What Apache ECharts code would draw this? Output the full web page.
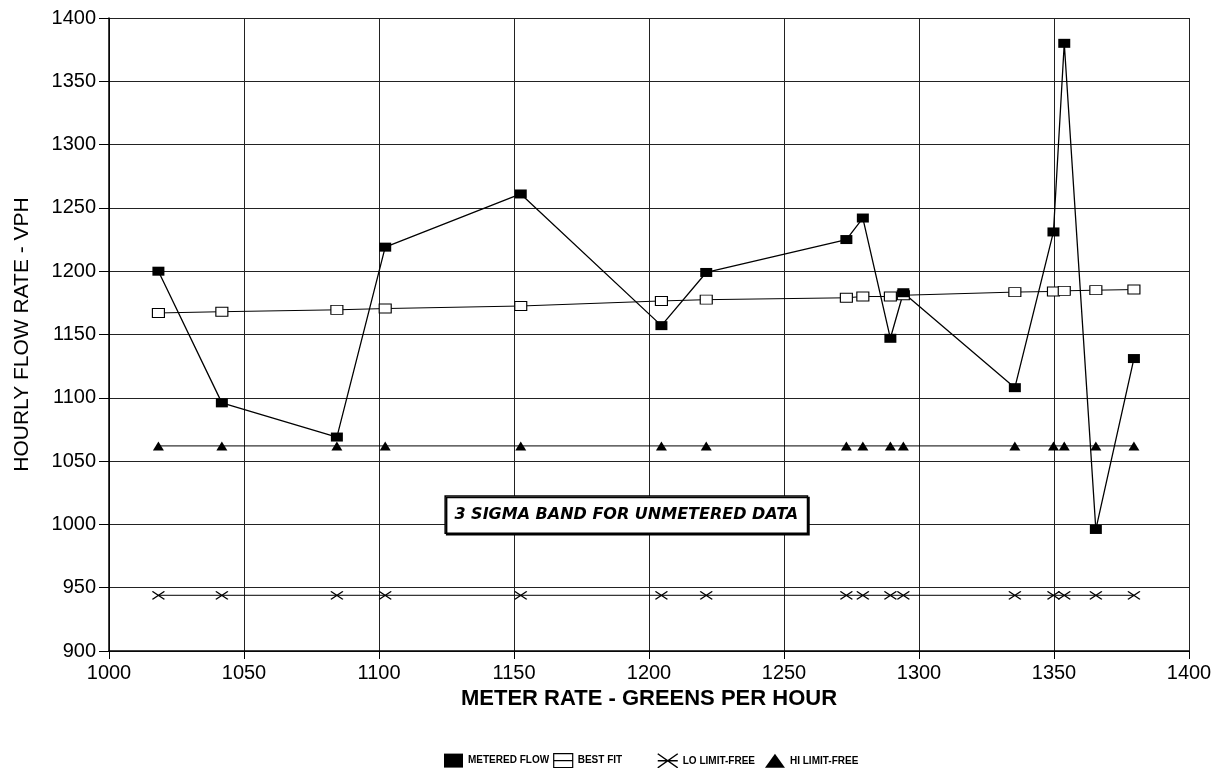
<!DOCTYPE html>
<html><head><meta charset="utf-8">
<script src="https://cdn.jsdelivr.net/npm/echarts@6/dist/echarts.min.js"></script>
<style>html,body{margin:0;padding:0;background:#fff}#c{width:1224px;height:768px}</style>
</head><body><div id="c"></div>
<script>
// Meter rate (greens per hour) for each observation
const meterRate   = [1018.3, 1041.8, 1084.4, 1102.3, 1152.5, 1204.6, 1221.2, 1273.1, 1279.2, 1289.4, 1294.2, 1335.5, 1349.8, 1353.8, 1365.5, 1379.6];
// Hourly flow rate (VPH)
const meteredFlow = [1200, 1096, 1069, 1219, 1261, 1157, 1199, 1225, 1242, 1147, 1183, 1108, 1231, 1380, 996, 1131];
const bestFit     = [1167, 1168, 1169.5, 1170.5, 1172.5, 1176.5, 1177.5, 1179, 1180, 1180, 1181, 1183.5, 1184, 1184.5, 1185, 1185.5];
const loLimit     = [944, 944, 944, 944, 944, 944, 944, 944, 944, 944, 944, 944, 944, 944, 944, 944];
const hiLimit     = [1062, 1062, 1062, 1062, 1062, 1062, 1062, 1062, 1062, 1062, 1062, 1062, 1062, 1062, 1062, 1062];
// Axis scales
const xScale = {min: 1000, max: 1400, interval: 50};
const yScale = {min: 900, max: 1400, interval: 50};
// Annotation
const bandLabel = '3 SIGMA BAND FOR UNMETERED DATA';
const bandBox = {x0: 1124.5, x1: 1258.7, y0: 1022.5, y1: 993};

const pair = ys => meterRate.map((x, i) => [x, ys[i]]);
const FF = 'Liberation Sans, Arial, Helvetica, sans-serif';
const plain = v => String(v);

const chart = echarts.init(document.getElementById('c'), null, {renderer: 'canvas'});
chart.setOption({
  animation: false,
  backgroundColor: '#fff',
  grid: {left: 109, right: 35, top: 18, bottom: 117, containLabel: false},
  xAxis: {
    type: 'value', min: xScale.min, max: xScale.max, interval: xScale.interval,
    name: 'METER RATE - GREENS PER HOUR', nameLocation: 'middle', nameGap: 37,
    nameTextStyle: {fontFamily: FF, fontSize: 22, fontWeight: 'bold', color: '#000'},
    axisLine: {show: true, onZero: false, lineStyle: {color: '#000', width: 1.5}},
    axisTick: {show: true, inside: false, length: 8, lineStyle: {color: '#000', width: 1}},
    axisLabel: {fontFamily: FF, fontSize: 20, color: '#000', margin: 12, formatter: plain},
    splitLine: {show: true, lineStyle: {color: '#222', width: 1}}
  },
  yAxis: {
    type: 'value', min: yScale.min, max: yScale.max, interval: yScale.interval,
    name: 'HOURLY FLOW RATE - VPH', nameLocation: 'middle', nameGap: 76, nameRotate: 90,
    nameTextStyle: {fontFamily: FF, fontSize: 21, color: '#000'},
    axisLine: {show: true, lineStyle: {color: '#000', width: 1.5}},
    axisTick: {show: true, inside: false, length: 10, lineStyle: {color: '#000', width: 1}},
    axisLabel: {fontFamily: FF, fontSize: 20, color: '#000', margin: 13, formatter: plain},
    splitLine: {show: true, lineStyle: {color: '#222', width: 1}}
  },
  legend: [
    {
      left: 444, top: 753, padding: 0, itemWidth: 19, itemHeight: 14, itemGap: 4,
      selectedMode: false,
      textStyle: {fontFamily: FF, fontSize: 10, fontWeight: 'bold', color: '#000'},
      data: [
        {name: 'METERED FLOW', icon: 'rect', itemStyle: {color: '#000', borderWidth: 0}},
        {name: 'BEST FIT', icon: 'path://M0,0H19V14H0ZM0,7H19', itemStyle: {color: '#fff', borderColor: '#000', borderWidth: 1.2}}
      ]
    },
    {
      left: 657, top: 753, padding: 0, itemWidth: 20, itemHeight: 14, itemGap: 10,
      selectedMode: false,
      textStyle: {fontFamily: FF, fontSize: 10, fontWeight: 'bold', color: '#000'},
      data: [
        {name: 'LO LIMIT-FREE', icon: 'path://M0,0L20,14M0,14L20,0M0,7H20', itemStyle: {color: 'rgba(0,0,0,0)', borderColor: '#000', borderWidth: 1.5}},
        {name: 'HI LIMIT-FREE', icon: 'triangle', itemStyle: {color: '#000', borderWidth: 0}}
      ]
    }
  ],
  series: [
    {
      name: 'LO LIMIT-FREE', type: 'line', data: pair(loLimit),
      symbol: 'path://M0,0L12,8M0,8L12,0', symbolSize: [12, 8], showAllSymbol: true,
      itemStyle: {color: '#000', borderColor: '#000', borderWidth: 1.3},
      lineStyle: {color: '#000', width: 1},
      emphasis: {disabled: true},
      markArea: {
        silent: true,
        itemStyle: {color: '#fff', borderColor: '#000', borderWidth: 1.5, shadowColor: '#000', shadowOffsetX: 1.5, shadowOffsetY: 1.5, shadowBlur: 0},
        label: {show: true, position: 'inside', formatter: bandLabel, fontFamily: 'DejaVu Sans, sans-serif', fontSize: 16, fontWeight: 'bold', fontStyle: 'italic', color: '#000'},
        data: [[{xAxis: bandBox.x0, yAxis: bandBox.y0}, {xAxis: bandBox.x1, yAxis: bandBox.y1}]]
      }
    },
    {
      name: 'HI LIMIT-FREE', type: 'line', data: pair(hiLimit),
      symbol: 'triangle', symbolSize: [11, 9], showAllSymbol: true,
      itemStyle: {color: '#000'},
      lineStyle: {color: '#000', width: 1},
      emphasis: {disabled: true}
    },
    {
      name: 'BEST FIT', type: 'line', data: pair(bestFit),
      symbol: 'rect', symbolSize: [12, 9], showAllSymbol: true,
      itemStyle: {color: '#fff', borderColor: '#000', borderWidth: 1},
      lineStyle: {color: '#000', width: 1},
      emphasis: {disabled: true}
    },
    {
      name: 'METERED FLOW', type: 'line', data: pair(meteredFlow),
      symbol: 'rect', symbolSize: [12, 9], showAllSymbol: true,
      itemStyle: {color: '#000', borderColor: '#000', borderWidth: 0},
      lineStyle: {color: '#000', width: 1.3},
      emphasis: {disabled: true}
    }
  ]
});
</script>
</body></html>
